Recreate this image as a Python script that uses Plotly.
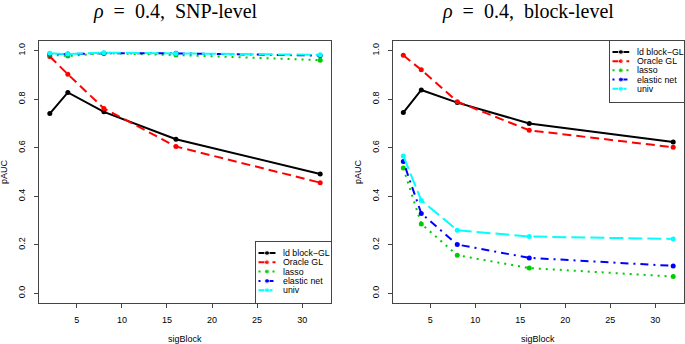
import plotly.graph_objects as go

# ---------------- data ----------------
sig_block = [2, 4, 8, 16, 32]
method_names = ["ld block\u2212GL", "Oracle GL", "lasso", "elastic net", "univ"]

snp_ld_block_gl = [0.741, 0.828, 0.748, 0.635, 0.492]
snp_oracle_gl   = [0.976, 0.903, 0.762, 0.605, 0.456]
snp_lasso       = [0.984, 0.978, 0.990, 0.982, 0.961]
snp_elastic_net = [0.986, 0.986, 0.990, 0.989, 0.980]
snp_univ        = [0.990, 0.986, 0.992, 0.988, 0.983]

blk_ld_block_gl = [0.745, 0.838, 0.786, 0.700, 0.624]
blk_oracle_gl   = [0.981, 0.921, 0.790, 0.672, 0.602]
blk_lasso       = [0.516, 0.286, 0.157, 0.104, 0.069]
blk_elastic_net = [0.543, 0.329, 0.201, 0.146, 0.113]
blk_univ        = [0.566, 0.383, 0.260, 0.234, 0.224]

y_tick_vals = [0.0, 0.2, 0.4, 0.6, 0.8, 1.0]
y_tick_text = ["0.0", "0.2", "0.4", "0.6", "0.8", "1.0"]
x_tick_vals = [5, 10, 15, 20, 25, 30]

panel_titles = ["<i>\u03c1</i>\u2002=\u20020.4,\u2002SNP-level",
                "<i>\u03c1</i>\u2002=\u20020.4,\u2002block-level"]
x_label = "sigBlock"
y_label = "pAUC"

# ---------------- styles ----------------
colors = ["#000000", "#FF0000", "#00CD00", "#0000FF", "#00FFFF"]
dashes = ["solid", "9px,5px", "2px,5px", "2px,5px,8px,5px", "14px,5px"]
W, H = 685, 344
SANS = "Liberation Sans, Arial, sans-serif"
SERIF = "Liberation Serif, Times New Roman, serif"


def px(x):
    return x / W


def py(y):
    return 1 - y / H


fig = go.Figure()

panels = [
    (snp_ld_block_gl, snp_oracle_gl, snp_lasso, snp_elastic_net, snp_univ),
    (blk_ld_block_gl, blk_oracle_gl, blk_lasso, blk_elastic_net, blk_univ),
]
for p, series in enumerate(panels):
    xa = "x" if p == 0 else "x2"
    ya = "y" if p == 0 else "y2"
    for i, vals in enumerate(series):
        fig.add_trace(go.Scatter(
            x=sig_block, y=vals, mode="lines+markers", xaxis=xa, yaxis=ya,
            line=dict(color=colors[i], width=2, dash=dashes[i]),
            marker=dict(color=colors[i], size=5),
            showlegend=False, hoverinfo="skip", name=method_names[i],
        ))

# legend swatches drawn in their own small axes (units: pixels inside the legend box)
LEG_W, LEG_H = 75, 61
item_y = [11 + 9.3 * i for i in range(len(method_names))]
for axn in (3, 4):
    for i, name in enumerate(method_names):
        fig.add_trace(go.Scatter(
            x=[2.5, 11, 19.5], y=[item_y[i]] * 3, mode="lines+markers",
            xaxis=f"x{axn}", yaxis=f"y{axn}",
            line=dict(color=colors[i], width=2, dash=dashes[i]),
            marker=dict(color=colors[i], size=[0, 5, 0]),
            showlegend=False, hoverinfo="skip",
        ))
        fig.add_annotation(
            x=25, y=item_y[i], xref=f"x{axn}", yref=f"y{axn}", text=name,
            showarrow=False, xanchor="left", yanchor="middle",
            font=dict(family=SANS, size=8.8, color="#000"),
        )

box_col = "#444444"
main_x = dict(range=[0.8, 33.2], tickvals=x_tick_vals, ticks="outside", ticklen=4,
              tickcolor=box_col, showline=True, mirror=True, linecolor=box_col, linewidth=1,
              showgrid=False, zeroline=False, ticklabelstandoff=4,
              tickfont=dict(family=SANS, size=9, color="#000"))
main_y = dict(range=[-0.04, 1.04], tickvals=y_tick_vals, ticktext=y_tick_text, ticks="outside",
              ticklen=4, tickcolor=box_col, showline=True, mirror=True, linecolor=box_col,
              linewidth=1, showgrid=False, zeroline=False, tickangle=-90, ticklabelstandoff=5,
              tickfont=dict(family=SANS, size=9, color="#000"))
leg_x = dict(range=[0, LEG_W], showline=True, mirror=True, linecolor=box_col, linewidth=1,
             showgrid=False, zeroline=False, showticklabels=False, ticks="", fixedrange=True)
leg_y = dict(range=[LEG_H, 0], showline=True, mirror=True, linecolor=box_col, linewidth=1,
             showgrid=False, zeroline=False, showticklabels=False, ticks="", fixedrange=True)

left_box = (39, 331)
right_box = (392.5, 684)
top, bottom = 41, 303

fig.update_layout(
    width=W, height=H, margin=dict(l=0, r=0, t=0, b=0),
    paper_bgcolor="white", plot_bgcolor="white",
    xaxis=dict(domain=[px(left_box[0]), px(left_box[1])], anchor="y", **main_x),
    yaxis=dict(domain=[py(bottom), py(top)], anchor="x", **main_y),
    xaxis2=dict(domain=[px(right_box[0]), px(right_box[1])], anchor="y2", **main_x),
    yaxis2=dict(domain=[py(bottom), py(top)], anchor="x2", **main_y),
    xaxis3=dict(domain=[px(331 - LEG_W), px(331)], anchor="y3", **leg_x),
    yaxis3=dict(domain=[py(bottom), py(bottom - LEG_H)], anchor="x3", **leg_y),
    xaxis4=dict(domain=[px(684 - LEG_W + 1), px(684)], anchor="y4", **leg_x),
    yaxis4=dict(domain=[py(top + LEG_H - 0.5), py(top)], anchor="x4", **leg_y),
    showlegend=False,
)

# titles and axis labels
for (lb, rb), title, lab_x in ((left_box, panel_titles[0], 4), (right_box, panel_titles[1], 358)):
    cx = (lb + rb) / 2
    fig.add_annotation(x=px(cx - 10), y=py(11), xref="paper", yref="paper", text=title,
                       showarrow=False, xanchor="center", yanchor="middle",
                       font=dict(family=SERIF, size=20, color="#000"))
    fig.add_annotation(x=px(cx), y=py(339), xref="paper", yref="paper", text=x_label,
                       showarrow=False, xanchor="center", yanchor="middle",
                       font=dict(family=SANS, size=9, color="#000"))
    fig.add_annotation(x=px(lab_x), y=py((top + bottom) / 2), xref="paper", yref="paper",
                       text=y_label, textangle=-90, showarrow=False,
                       xanchor="center", yanchor="middle",
                       font=dict(family=SANS, size=9, color="#000"))

fig.write_html("out.html", config={"displayModeBar": False},
               post_script="document.body.style.margin='0px';")
